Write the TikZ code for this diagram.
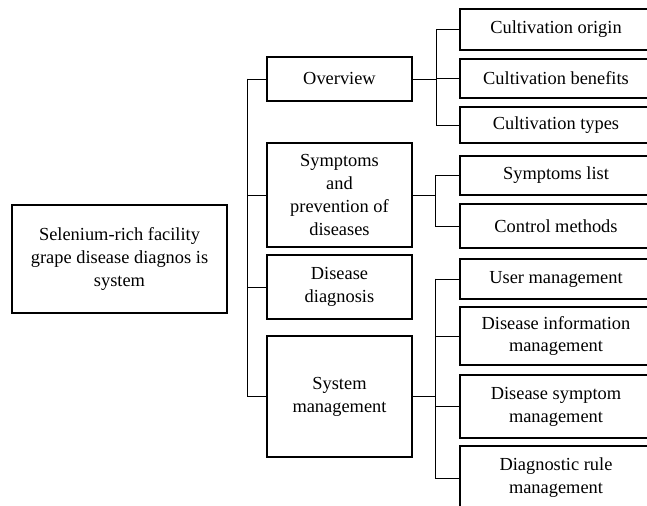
\documentclass[tikz,border=0pt]{standalone}
\usepackage{fontspec}
\setmainfont{Liberation Serif}
\usetikzlibrary{calc}

\tikzset{
	box/.style 2 args={draw, line width=0.8pt, align=center, inner sep=0pt,
		minimum width=#1*0.75pt, minimum height=#2*0.75pt},
	link/.style={line width=0.7pt}
}

\begin{document}
\begin{tikzpicture}[x=0.75pt, y=-0.75pt, line cap=rect, line join=miter,
	font=\fontsize{13.8}{17.2}\selectfont]

\useasboundingbox (0,0) rectangle (647,506);
\clip (0,0) rectangle (647,506);

%========================
% Level 0 and level 1
%========================
\node[box={215}{108}] (root) at (119.5,259) {Selenium-rich facility\\grape disease diagnos is\\system};

\node[box={145}{44}]  (overview)  at (339.5,79)    {Overview};
\node[box={145}{104}] (symptoms)  at (339.5,195)   {Symptoms\\and\\prevention of\\diseases};
\node[box={145}{64}]  (diagnosis) at (339.5,287)   {Disease\\diagnosis};
\node[box={145}{121}] (sysmgmt)   at (339.5,396.5) {System\\management};

% trunk
\coordinate (trunk) at (247,0);
\draw[link] ($(root.east)+(0,2)$) -- ($(root.east)+(0,2)$ -| trunk);
\draw[link] (overview.west -| trunk) -- (sysmgmt.west -| trunk);
\foreach \n in {overview,symptoms,diagnosis,sysmgmt}
	\draw[link] (\n.west) -- (\n.west -| trunk);

%========================
% Level 2
%========================
% overview
\node[box={192}{41}] (origin)   at (556,29.5) {Cultivation origin};
\node[box={192}{39}] (benefits) at (556,78.5) {Cultivation benefits};
\node[box={192}{36}] (types)    at (556,125)  {Cultivation types};

% symptoms and prevention
\node[box={192}{39}] (symlist) at (556,175.5) {Symptoms list};
\node[box={192}{44}] (control) at (556,226)   {Control methods};

% system management
\node[box={192}{40}] (usermgmt)    at (556,279)   {User management};
\node[box={192}{58}] (diseaseinfo) at (556,336)   {Disease information\\management};
\node[box={192}{63}] (symptommgmt) at (556,406.5) {Disease symptom\\management};
\node[box={192}{64}] (rulemgmt)    at (556,478)   {Diagnostic rule\\management};

% branches
\coordinate (brA) at (436,0);
\coordinate (brB) at (435,0);
\draw[link] (overview.east) -- (overview.east -| brA);
\draw[link] (origin.west -| brA) -- (types.west -| brA);
\foreach \n in {origin,benefits,types}
	\draw[link] (\n.west) -- (\n.west -| brA);

\draw[link] (symptoms.east) -- (symptoms.east -| brB);
\draw[link] (symlist.west -| brB) -- (control.west -| brB);
\foreach \n in {symlist,control}
	\draw[link] (\n.west) -- (\n.west -| brB);

\draw[link] (sysmgmt.east) -- (sysmgmt.east -| brB);
\draw[link] (usermgmt.west -| brB) -- (rulemgmt.west -| brB);
\foreach \n in {usermgmt,diseaseinfo,symptommgmt,rulemgmt}
	\draw[link] (\n.west) -- (\n.west -| brB);

\end{tikzpicture}
\end{document}
